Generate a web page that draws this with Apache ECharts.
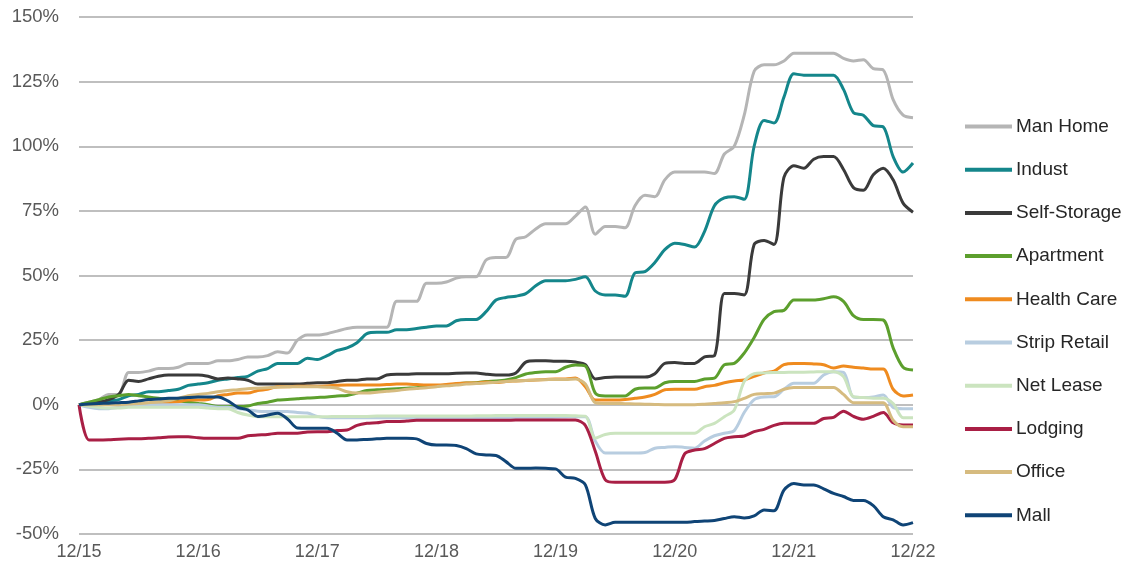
<!DOCTYPE html>
<html>
<head>
<meta charset="utf-8">
<script src="https://cdn.jsdelivr.net/npm/echarts@6/dist/echarts.min.js"></script>
<style>
html,body{margin:0;padding:0;background:#fff;}
#chart{width:1134px;height:565px;}
</style>
</head>
<body>
<div id="chart"></div>
<script>
// Monthly, 12/15 .. 12/22 (85 points), cumulative % change
const startYear = 2015, startMonth = 12, nMonths = 85;
const tickLabels = ['12/15','12/16','12/17','12/18','12/19','12/20','12/21','12/22'];
const yTicks = [-50,-25,0,25,50,75,100,125,150];

const seriesNames = ['Man Home','Indust','Self-Storage','Apartment','Health Care','Strip Retail','Net Lease','Lodging','Office','Mall'];
const seriesColors = ['#b5b5b5','#14868b','#3a3a3a','#5c9f2d','#ef8b1f','#b8cde0','#cbe4bf','#a91f45','#d6bb7f','#0f4476'];

const manHome = [0,1,2,4,4,12.5,12.5,13,14,14, 14.5,16,16,16,17,17,17.5,18.5,18.5,19, 20.5,20,25,27,27,27.5,28.5,29.5,30,30, 30,30,40,40,40,47,47,47.5,49,49.5, 49.5,56,57,57,64,65,68,70,70,70, 73,76.5,66,69,69,68.5,77,81,80.5,87, 90,90,90,90,89.5,97,100,112,129,131.5, 131.5,133,136,136,136,136,136,134,133,133.5, 130,129.5,118,112,111];
const indust = [0,0.5,1,1.5,2,3.5,4,5,5,5.5, 6,7.5,8,8.5,9.5,10,10.5,11,13,14, 16,16,16,18,17.5,19,21,22,24,27.5, 28,28,29,29,29.5,30,30.5,30.5,32.5,33, 33,36,40.5,41.5,42,43,46,48,48,48, 48.5,49.5,44,42.5,42.5,42,51,51.5,55,60, 62.5,62,61,67,77,80,80.5,79.5,100,110, 109,119,128,127.5,127.5,127.5,127.5,122,113,112, 108,107.5,96,90,93.5];
const selfStorage = [0,0.5,1,2,4,9.5,9,10,11,11.5, 11.5,11.5,11.5,11,10,10.3,10,9.5,8,8, 8,8,8,8.3,8.5,8.5,9,9.5,9.5,10, 10,11.5,11.8,11.8,12,12,12,12,12.2,12.3, 12.3,11.8,11.5,11.5,12.3,16.5,17,17,16.8,16.8, 16.5,15.5,10,10.5,10.7,10.7,10.7,10.7,12,16, 16.3,16,16,18.5,19,43,43,42.5,62,63.5, 62,88,92.5,91.5,95,96,96,91,84,83, 89,91.5,87,78,74.5];
const apartment = [0,1,2,3,3.5,4,3.5,3,2.5,2, 1.5,1,0.5,0,-0.7,-0.7,-0.7,-0.5,0.5,1, 1.8,2,2.3,2.6,2.8,3,3.4,3.6,4.5,5.5, 5.8,6,6.2,6.4,6.6,7,7.2,7.5,8,8.4, 8.5,9,9.2,9.6,10.5,11.9,12.5,12.8,12.8,14.5, 15.4,15,4.5,3.4,3.4,3.4,6,6.5,6.5,8.5, 9,9,9,10,10.3,15.5,16,20,26,33, 36,36.5,40.5,40.5,40.5,41,41.8,40,34.5,33, 33,32.8,22,14.5,13.4];
const healthCare = [0,0,0.3,0.5,0.5,0.6,0.6,0.6,0.6,0.8, 1.2,1.8,1.8,2,3.5,4,4.5,4.5,5.5,6, 7,7,7.2,7.2,7.2,7.3,7.5,7.6,7.6,7.6, 7.6,7.8,8,8,7.8,7.6,7.6,7.8,8.2,8.4, 8.4,8.8,8.6,9,9.2,9.4,9.6,9.8,10,10, 10.3,7,1.8,1.8,1.8,2,2.5,3,4,5.8, 6,6,6,7,7.5,8.5,9.2,9.6,11,12.3, 13,15.5,16,16,15.8,15.5,14.2,15,14.5,14.2, 13.8,13.8,6,3.4,3.8];
const stripRetail = [0,-1,-1.5,-1.5,-1,-0.5,0,0,0,0, 0,0,0,-0.5,-1,-1,-1.5,-2,-2.5,-2.6, -2.6,-2.6,-3,-3.2,-4.5,-5,-5,-5,-5,-5, -5,-5,-5,-5,-5,-5,-5,-5,-5,-5, -5,-5,-5,-5,-5,-5,-5,-5,-4.8,-4.7, -4.6,-4.6,-14,-18.7,-18.7,-18.7,-18.7,-18.5,-16.8,-16.5, -16.2,-16.5,-16.8,-14,-12,-11,-10,-3,2,3, 3.1,6,8.3,8.3,8.3,11.5,12.8,12.5,3,2.8, 3,3.8,-1,-1.5,-1.5];
const netLease = [0,-0.5,-1,-1.3,-1.3,-1,-1,-1,-1,-1, -1,-1,-1,-1.3,-1.5,-1.5,-3,-4,-4.6,-4.6, -4.6,-4.6,-4.6,-4.6,-4.6,-4.6,-4.5,-4.5,-4.5,-4.5, -4.4,-4.4,-4.4,-4.4,-4.4,-4.4,-4.4,-4.4,-4.4,-4.4, -4.3,-4.3,-4.2,-4.2,-4.2,-4.2,-4.2,-4.2,-4.2,-4.2, -4.3,-4.4,-12.9,-11.5,-11,-11,-11,-11,-11,-11, -11,-11,-11,-8.5,-7.2,-4.6,-2,9,12,12.3, 12.5,12.5,12.6,12.6,12.7,12.8,12.8,10.9,3.1,2.8, 2.5,2.5,0.5,-5,-5];
const lodging = [0,-13.6,-13.6,-13.5,-13.3,-13.2,-13.2,-13,-12.8,-12.5, -12.4,-12.4,-12.8,-13,-13,-13,-13,-12,-11.7,-11.5, -11,-11,-11,-10.5,-10.4,-10.4,-10,-9.8,-8,-7.2, -7,-6.5,-6.5,-6.3,-6,-6,-6,-6,-6,-6, -6,-6,-6,-6,-5.9,-5.9,-5.9,-5.9,-5.9,-5.9, -5.9,-8,-18,-29,-30,-30,-30,-30,-30,-30, -29,-19,-17.5,-17,-15,-13,-12.4,-12.1,-10.4,-9.5, -8,-7.2,-7.2,-7.2,-7.2,-5.3,-4.9,-2.5,-4.5,-5.6, -4.5,-3,-7,-7.8,-7.8];
const office = [0,0,0,0,0,0.3,0.5,0.8,1.2,1.5, 2.5,3.5,4,4.4,5,5.5,5.8,6.2,6.4,6.6, 6.8,7,7,7,7,6.8,6.4,5,4.5,4.5, 4.8,5.2,5.5,6,6.3,6.6,7,7.3,7.6,8, 8.2,8.4,8.7,9,9.2,9.4,9.6,9.7,9.8,9.8, 10,8,0.8,0.5,0.5,0.4,0.3,0.2,0.1,0, 0,0,0,0.2,0.5,0.8,1.2,2.5,4,4.3, 4.5,6,6.7,6.7,6.7,6.7,6.7,4,0.8,0.8, 0.8,0.8,-6,-8.5,-8.5];
const mall = [0,0.3,0.5,0.6,0.8,1,1.5,2,2.2,2.5, 2.5,2.8,3,3,3,1.5,-1,-2,-4.5,-4, -3.3,-5.5,-9,-9.1,-9.1,-9.1,-11,-13.6,-13.6,-13.4, -13.2,-13,-13,-13,-13.2,-15,-15.6,-15.6,-15.8,-17, -19,-19.4,-19.6,-22,-24.6,-24.6,-24.5,-24.6,-24.8,-28, -28.5,-31,-44,-46.5,-45.5,-45.5,-45.5,-45.5,-45.5,-45.5, -45.5,-45.5,-45.2,-45,-44.8,-44,-43.3,-43.8,-43,-40.7, -41,-33,-30.5,-31,-31,-32.5,-34.3,-35.5,-37,-37, -39,-43.3,-44.5,-46.5,-45.6];

const allData = [manHome, indust, selfStorage, apartment, healthCare, stripRetail, netLease, lodging, office, mall];

const categories = [];
for (let i = 0; i < nMonths; i++) {
  const m0 = startMonth - 1 + i;
  const m = (m0 % 12) + 1;
  const y = startYear + Math.floor(m0 / 12);
  categories.push(m + '/' + String(y % 100).padStart(2, '0'));
}

const FONT = '"Liberation Sans", Arial, sans-serif';
const chart = echarts.init(document.getElementById('chart'), null, {renderer: 'canvas'});
chart.setOption({
  animation: false,
  backgroundColor: '#ffffff',
  grid: {left: 79, right: 221, top: 17, bottom: 31, containLabel: false},
  legend: {
    orient: 'vertical',
    left: 965,
    top: 117,
    padding: 0,
    itemWidth: 47,
    itemHeight: 4,
    itemGap: 24.2,
    icon: 'rect',
    data: seriesNames,
    textStyle: {fontFamily: FONT, fontSize: 19, color: '#262626', lineHeight: 19, padding: [0,0,0,-1]}
  },
  xAxis: {
    type: 'category',
    data: categories,
    boundaryGap: false,
    axisLine: {show: false},
    axisTick: {show: false},
    splitLine: {show: false},
    axisLabel: {
      interval: function (idx, val) { return tickLabels.indexOf(val) >= 0; },
      fontFamily: FONT, fontSize: 18, color: '#595959', margin: 9
    }
  },
  yAxis: {
    type: 'value',
    min: -50, max: 150, interval: 25,
    axisLine: {show: false},
    axisTick: {show: false},
    axisLabel: {
      formatter: function (v) { return yTicks.indexOf(v) >= 0 ? v + '%' : ''; },
      fontFamily: FONT, fontSize: 18.5, color: '#595959', margin: 20
    },
    splitLine: {lineStyle: {color: '#bfbfbf', width: 2}}
  },
  series: seriesNames.map(function (name, k) {
    return {
      name: name,
      type: 'line',
      data: allData[k],
      symbol: 'none',
      smooth: 0.3,
      color: seriesColors[k],
      lineStyle: {width: 3, color: seriesColors[k]},
      itemStyle: {color: seriesColors[k]}
    };
  })
});
</script>
</body>
</html>
